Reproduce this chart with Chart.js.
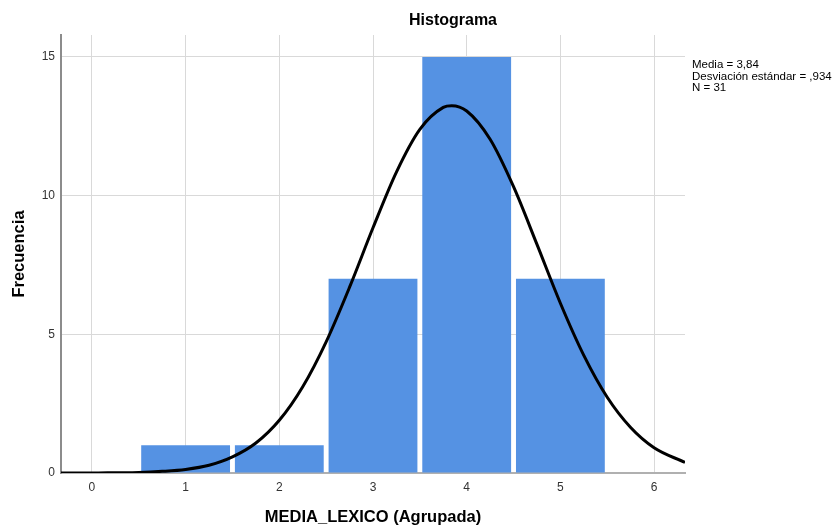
<!DOCTYPE html>
<html>
<head>
<meta charset="utf-8">
<script src="https://cdn.jsdelivr.net/npm/chart.js@4/dist/chart.umd.min.js"></script>
<style>
  html, body { margin: 0; padding: 0; background: #fff; }
  #wrap { position: relative; width: 840px; height: 529px; }
  #title { position: absolute; left: 353px; width: 200px; top: 11px; text-align: center;
           font: bold 16px "Liberation Sans", Arial, sans-serif; color: #000; }
  #stats { position: absolute; left: 692px; top: 59px; font: 11.5px "Liberation Sans", Arial, sans-serif;
           line-height: 11.5px; color: #000; white-space: nowrap; }
</style>
</head>
<body>
<div id="wrap">
  <canvas id="c" width="840" height="529"></canvas>
  <div id="title">Histograma</div>
  <div id="stats">Media = 3,84<br>Desviación estándar = ,934<br>N = 31</div>
</div>
<script>
// Histogram bins (class midpoints) and frequencies
const binCenters = [1, 2, 3, 4, 5];
const frequencies = [1, 1, 7, 15, 7];
// Normal curve (x, frequency)
const curveX = [-0.33, 0, 0.25, 0.5, 0.75, 1, 1.25, 1.5, 1.75, 2, 2.25, 2.5, 2.75, 3, 3.25, 3.5, 3.75, 3.84, 4, 4.25, 4.5, 4.75, 5, 5.25, 5.5, 5.75, 6, 6.33];
const curveY = [0.00, 0.00, 0.01, 0.02, 0.06, 0.13, 0.28, 0.58, 1.08, 1.90, 3.11, 4.73, 6.70, 8.84, 10.85, 12.39, 13.18, 13.24, 13.05, 12.03, 10.32, 8.24, 6.12, 4.24, 2.73, 1.64, 0.91, 0.38];
const xTicks = [0, 1, 2, 3, 4, 5, 6];
const yTicks = [0, 5, 10, 15];

const barData = binCenters.map((x, i) => ({ x: x, y: frequencies[i] }));
const lineData = curveX.map((x, i) => ({ x: x, y: curveY[i] }));

const fontFam = '"Liberation Sans", Arial, sans-serif';

new Chart(document.getElementById('c'), {
  type: 'bar',
  data: {
    datasets: [
      {
        type: 'line',
        data: lineData,
        borderColor: '#000',
        borderWidth: 3,
        pointRadius: 0,
        fill: false,
        cubicInterpolationMode: 'monotone',
        order: 0
      },
      {
        type: 'bar',
        data: barData,
        backgroundColor: '#5592e3',
        borderWidth: 0,
        barPercentage: 0.948,
        categoryPercentage: 1,
        order: 1
      }
    ]
  },
  options: {
    responsive: false,
    animation: false,
    devicePixelRatio: 1,
    layout: { padding: { top: 35, right: 155, left: 0, bottom: 0 } },
    plugins: { legend: { display: false }, tooltip: { enabled: false }, title: { display: false } },
    scales: {
      x: {
        type: 'linear',
        offset: false,
        min: -0.33,
        max: 6.33,
        afterBuildTicks: (s) => { s.ticks = xTicks.map(v => ({ value: v })); },
        afterFit: (s) => { s.height = 56; },
        ticks: { includeBounds: false, color: '#333', font: { family: fontFam, size: 12 }, padding: 7 },
        grid: { offset: false, color: '#d9d9d9', lineWidth: 1, drawTicks: false },
        border: { color: '#b0b0b0', width: 2 },
        title: { display: true, text: 'MEDIA_LEXICO (Agrupada)', color: '#000',
                 font: { family: fontFam, size: 16.5, weight: 'bold' }, padding: { top: 0, bottom: 2 } }
      },
      y: {
        min: 0,
        max: 15.79,
        afterBuildTicks: (s) => { s.ticks = yTicks.map(v => ({ value: v })); },
        afterFit: (s) => { s.width = 61; },
        ticks: { includeBounds: false, color: '#333', font: { family: fontFam, size: 12 }, padding: 6 },
        grid: { color: '#d9d9d9', lineWidth: 1, drawTicks: false },
        border: { color: '#8c8c8c', width: 2 },
        title: { display: true, text: 'Frecuencia', color: '#000',
                 font: { family: fontFam, size: 16.5, weight: 'bold' }, padding: { top: 10, bottom: 0 } }
      }
    }
  }
});
</script>
</body>
</html>
